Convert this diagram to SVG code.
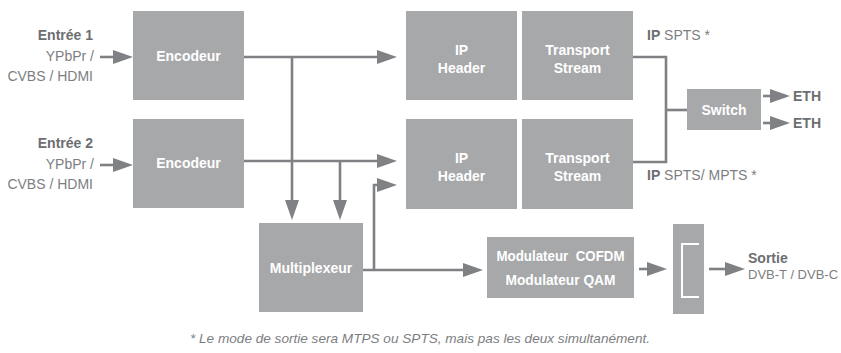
<svg xmlns="http://www.w3.org/2000/svg" width="841" height="353" viewBox="0 0 841 353">
<style>
.box{fill:#a7a8aa}
.ln{fill:none;stroke:#808184;stroke-width:2.6}
.arr{marker-end:url(#ah)}
.bt{font-family:"Liberation Sans",Arial,sans-serif;font-size:14px;font-weight:bold;fill:#ffffff;text-anchor:middle}
.lb{font-family:"Liberation Sans",Arial,sans-serif;font-size:14px;fill:#7d7e81}
.lbb{font-weight:bold;fill:#6d6e71}
.note{font-family:"Liberation Sans",Arial,sans-serif;font-size:13.5px;font-style:italic;fill:#7d7e81;text-anchor:middle}
</style>
<defs>
<marker id="ah" markerUnits="userSpaceOnUse" markerWidth="20" markerHeight="14" refX="12" refY="7" orient="auto">
<path d="M0,0 L20,7 L0,14 z" fill="#808184"/>
</marker>
</defs>
<rect width="841" height="353" fill="#ffffff"/>

<g id="connectors">
<line class="ln arr" x1="100" y1="57" x2="125" y2="57"/>
<line class="ln arr" x1="100" y1="165" x2="125" y2="165"/>
<line class="ln arr" x1="244" y1="57" x2="389" y2="57"/>
<line class="ln arr" x1="292" y1="57" x2="292" y2="212"/>
<line class="ln arr" x1="244" y1="161" x2="389" y2="161"/>
<line class="ln arr" x1="340" y1="161" x2="340" y2="212"/>
<line class="ln arr" x1="363" y1="270" x2="475" y2="270"/>
<polyline class="ln arr" points="374,270 374,185 389,185"/>
<line class="ln arr" x1="639" y1="269" x2="659" y2="269"/>
<line class="ln arr" x1="709" y1="269" x2="737" y2="269"/>
<polyline class="ln" points="633,57 666,57 666,162 633,162"/>
<line class="ln" x1="666" y1="110" x2="687" y2="110"/>
<line class="ln arr" x1="763" y1="96" x2="782" y2="96"/>
<line class="ln arr" x1="763" y1="123" x2="782" y2="123"/>
</g>

<g id="input1">
<text class="lb lbb" x="93" y="40" text-anchor="end">Entrée 1</text>
<text class="lb" x="94" y="61" text-anchor="end">YPbPr /</text>
<text class="lb" x="93" y="81" text-anchor="end">CVBS / HDMI</text>
</g>
<g id="input2">
<text class="lb lbb" x="93" y="148" text-anchor="end">Entrée 2</text>
<text class="lb" x="94" y="169" text-anchor="end">YPbPr /</text>
<text class="lb" x="93" y="189" text-anchor="end">CVBS / HDMI</text>
</g>

<g id="encodeur1"><rect class="box" x="133" y="11" width="111" height="89"/><text class="bt" x="188.5" y="61">Encodeur</text></g>
<g id="encodeur2"><rect class="box" x="133" y="119" width="111" height="89"/><text class="bt" x="188.5" y="168">Encodeur</text></g>

<g id="ipheader1"><rect class="box" x="406" y="11" width="111" height="89"/><text class="bt" x="461.5" y="55">IP</text><text class="bt" x="461.5" y="73">Header</text></g>
<g id="transport1"><rect class="box" x="522" y="11" width="111" height="89"/><text class="bt" x="577.5" y="55">Transport</text><text class="bt" x="577.5" y="73">Stream</text></g>
<g id="ipheader2"><rect class="box" x="406" y="119" width="111" height="90"/><text class="bt" x="461.5" y="163">IP</text><text class="bt" x="461.5" y="181">Header</text></g>
<g id="transport2"><rect class="box" x="522" y="119" width="111" height="90"/><text class="bt" x="577.5" y="163">Transport</text><text class="bt" x="577.5" y="181">Stream</text></g>

<g id="label-spts"><text class="lb" x="647" y="40"><tspan class="lbb">IP</tspan> SPTS *</text></g>
<g id="label-mpts"><text class="lb" x="647" y="180"><tspan class="lbb">IP</tspan> SPTS/ MPTS *</text></g>

<g id="switch"><rect class="box" x="687" y="89" width="74" height="41"/><text class="bt" x="724" y="115">Switch</text></g>
<g id="eth1"><text class="lb lbb" x="793" y="101">ETH</text></g>
<g id="eth2"><text class="lb lbb" x="793" y="128">ETH</text></g>

<g id="multiplexeur"><rect class="box" x="259" y="223" width="104" height="89"/><text class="bt" x="311" y="273">Multiplexeur</text></g>
<g id="modulateur"><rect class="box" x="487" y="237" width="147" height="61"/><text class="bt" x="560.5" y="261" xml:space="preserve" textLength="128" lengthAdjust="spacingAndGlyphs">Modulateur  COFDM</text><text class="bt" x="560.5" y="285" textLength="110" lengthAdjust="spacingAndGlyphs">Modulateur QAM</text></g>

<g id="sortie-box"><rect class="box" x="673" y="224" width="31" height="90"/><polyline points="699,244 682,244 682,297 699,297" fill="none" stroke="#ffffff" stroke-width="2"/></g>
<g id="sortie"><text class="lb lbb" x="748" y="263">Sortie</text><text class="lb" x="748" y="279" style="font-size:13px">DVB-T / DVB-C</text></g>

<g id="footnote"><text class="note" x="420" y="343" textLength="460" lengthAdjust="spacingAndGlyphs">* Le mode de sortie sera MTPS ou SPTS, mais pas les deux simultanément.</text></g>
</svg>
